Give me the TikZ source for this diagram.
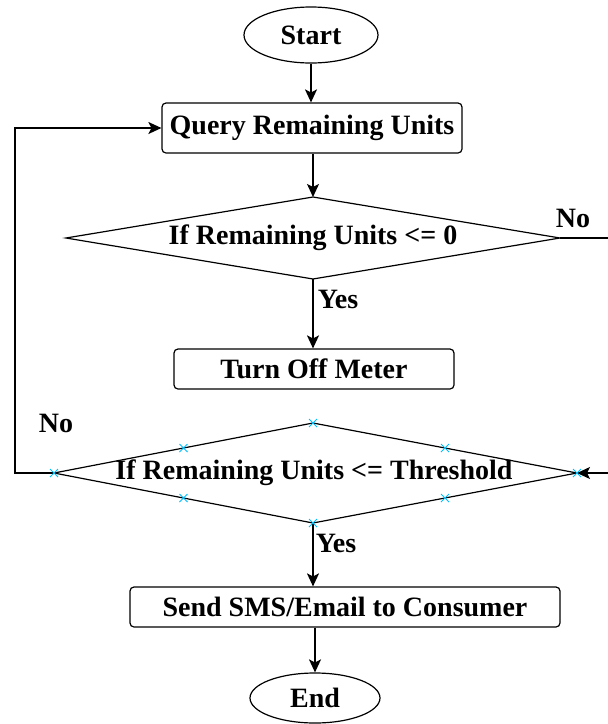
\documentclass[tikz,border=0pt]{standalone}
\usepackage[svgnames]{xcolor}
\usepackage{fontspec}
\setmainfont{Liberation Serif}
\usepackage{tikz}
\usetikzlibrary{shapes.geometric,shapes.misc,arrows.meta,calc}
\tikzstyle{none}=[inner sep=0pt]
\tikzstyle{terminal}=[ellipse,draw=Black,line width=1.2,inner sep=0pt]
\tikzstyle{process}=[rectangle,rounded corners=4pt,draw=Black,line width=1.2,inner sep=0pt]
\tikzstyle{line}=[draw=Black,line width=1.2]
\tikzstyle{arrow}=[-{Stealth[length=13pt,width=12pt,inset=3pt]},draw=Black,line width=1.2]
\tikzstyle{handle}=[cross out,draw=DeepSkyBlue,line width=1,minimum size=7pt,inner sep=0pt]

\begin{document}
\begin{tikzpicture}[x=1pt,y=1pt,font=\fontsize{28}{32}\selectfont\bfseries]
 \useasboundingbox (0, 0) rectangle (608, -724);
 \node [style=terminal, minimum width=134, minimum height=56] (0) at (311, -35) {Start};
 \node [style=process, minimum width=300, minimum height=50] (1) at (312, -128) {Query Remaining Units};
 \node [style=none] (2) at (313, -238) {If Remaining Units <= 0};
 \node [style=none] (3) at (313, -197) {};
 \node [style=none] (4) at (560, -238) {};
 \node [style=none] (5) at (313, -279) {};
 \node [style=none] (6) at (66, -238) {};
 \node [style=none] (7) at (573, -218) {No};
 \node [style=none] (9) at (338, -299) {Yes};
 \node [style=process, minimum width=280, minimum height=40] (10) at (314, -369) {Turn Off Meter};
 \node [style=none] (11) at (56, -423) {No};
 \node [style=none] (12) at (314, -473) {If Remaining Units <= Threshold};
 \node [style=none] (13) at (313, -423) {};
 \node [style=none] (14) at (577, -473) {};
 \node [style=none] (15) at (313, -523) {};
 \node [style=none] (16) at (54, -473) {};
 \node [style=none] (17) at (336, -543) {Yes};
 \node [style=process, minimum width=430, minimum height=40] (18) at (345, -607) {Send SMS/Email to Consumer};
 \node [style=terminal, minimum width=130, minimum height=50] (19) at (315, -698) {End};
 \coordinate (20) at (15, -473);
 \coordinate (21) at (15, -128);
 \coordinate (22) at (614, -238);
 \coordinate (23) at (614, -473);
 \draw [style=line] (3.center) to (4.center) to (5.center) to (6.center) to cycle;
 \draw [style=line] (13.center) to (14.center) to (15.center) to (16.center) to cycle;
 \draw [style=arrow] (0.south) to (0.south |- 1.north);
 \draw [style=arrow] (1.south -| 3.center) to (3.center);
 \draw [style=arrow] (5.center) to (5.center |- 10.north);
 \draw [style=arrow] (15.center) to (15.center |- 18.north);
 \draw [style=arrow] (18.south -| 19.north) to (19.north);
 \draw [style=arrow] (16.center) to (20) to (21) to (1.west);
 \draw [style=arrow] (4.center) to (22) to (23) to (14.center);
 \foreach \a/\b in {13/14, 14/15, 15/16, 16/13} {
  \node [style=handle] at (\a) {};
  \node [style=handle] at ($(\a)!0.5!(\b)$) {};
 }
\end{tikzpicture}
\end{document}
